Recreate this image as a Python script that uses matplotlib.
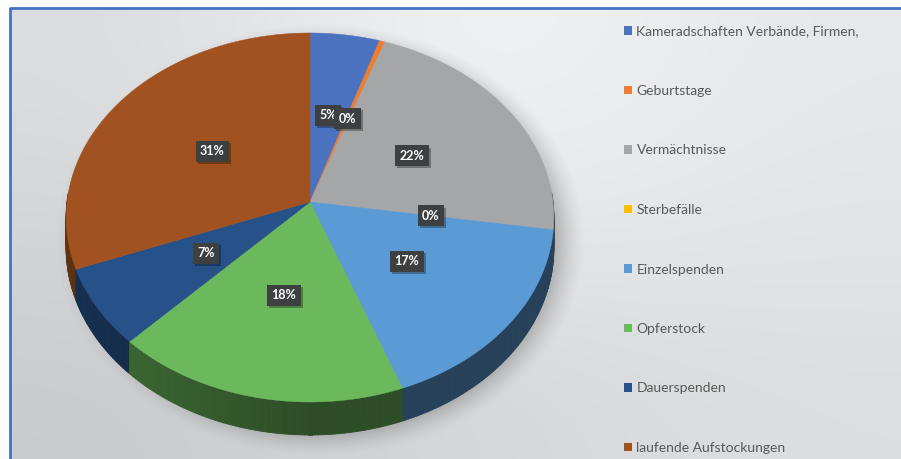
import numpy as np
import matplotlib
matplotlib.use('Agg')
import matplotlib.pyplot as plt
import matplotlib.patheffects as pe
from matplotlib.patches import Polygon, Patch
from matplotlib.collections import PolyCollection
from matplotlib.colors import to_rgb

# slice data, clockwise from 12 o'clock
labels = ['Kameradschaften Verbände, Firmen,', 'Geburtstage', 'Vermächtnisse',
          'Sterbefälle', 'Einzelspenden', 'Opferstock', 'Dauerspenden',
          'laufende Aufstockungen']
values = [5.0, 0.4, 22.0, 0.0, 16.9, 18.0, 6.9, 30.8]
colors = ['#4A72BE', '#ED7D31', '#A4A6A8', '#FFC000', '#5B9BD5', '#6CB85C',
          '#265189', '#A15220']

# tilted pie geometry (pixel units, simple perspective)
cx, cy = 310, 202
rx, ry, k = 243, 183.2, 0.084
depth = 30.2


def project(u, v):
    w = 1 + k * v
    return cx + rx * u / w, cy - ry * v / w


def rim(t):
    return project(np.sin(t), np.cos(t))


def shade(c, f):
    r, g, b = to_rgb(c)
    return (r * f, g * f, b * f)


fig = plt.figure(figsize=(9.01, 4.59), dpi=100)
fig.patch.set_facecolor('white')
ax = fig.add_axes([0, 0, 1, 1])
ax.set_xlim(0, 901)
ax.set_ylim(459, 0)
ax.axis('off')

# background gradient
bg = np.array([[0xDA, 0xF4, 0xE6],
               [0xD2, 0xE8, 0xE2],
               [0xC9, 0xD4, 0xDC]]) / 255.0
bg_rgb = np.dstack([bg, np.clip(bg + 0.008, 0, 1), np.clip(bg + 0.012, 0, 1)])
ax.imshow(bg_rgb, extent=(10, 901, 459, 8), interpolation='bicubic',
          aspect='auto', zorder=0)

# soft drop shadow
X, Y = np.meshgrid(np.arange(0, 901), np.arange(0, 459))
r = np.sqrt(((X - 320) / 251.0) ** 2 + ((Y - 239) / 205.0) ** 2)
alpha = 0.32 * np.clip((1.06 - r) / 0.13, 0, 1) ** 1.5
sh = np.zeros((459, 901, 4))
sh[..., :3] = 0.25
sh[..., 3] = alpha
ax.imshow(sh, extent=(0, 901, 459, 0), aspect='auto', zorder=1)

fracs = np.array(values) / sum(values)
bounds = np.concatenate([[0], np.cumsum(fracs)]) * 2 * np.pi

# side walls, back to front
segs = []
for i in range(len(values)):
    if fracs[i] <= 0:
        continue
    n = max(2, int(fracs[i] * 500))
    ts = np.linspace(bounds[i], bounds[i + 1], n + 1)
    for a, b in zip(ts[:-1], ts[1:]):
        tm = 0.5 * (a + b)
        v = np.cos(tm)
        if v > 0.05:
            continue
        xa, ya = rim(a)
        xb, yb = rim(b)
        da = depth / (1 + k * np.cos(a))
        db = depth / (1 + k * np.cos(b))
        f = 0.42 + 0.18 * max(0.0, -np.sin(tm))
        segs.append((v, [(xa, ya), (xb, yb), (xb, yb + db), (xa, ya + da)],
                     shade(colors[i], f)))
segs.sort(key=lambda s: -s[0])
pc = PolyCollection([s[1] for s in segs], facecolors=[s[2] for s in segs],
                    edgecolors=[s[2] for s in segs], linewidths=0.6, zorder=2)
ax.add_collection(pc)

# top faces
for i in range(len(values)):
    if fracs[i] <= 0:
        continue
    n = max(2, int(fracs[i] * 500))
    ts = np.linspace(bounds[i], bounds[i + 1], n + 1)
    xs, ys = rim(ts)
    pts = [(cx, cy)] + list(zip(xs, ys))
    ax.add_patch(Polygon(pts, closed=True, facecolor=colors[i],
                         edgecolor=colors[i], lw=0.3, zorder=3))

# data labels
for i in range(len(values)):
    tm = 0.5 * (bounds[i] + bounds[i + 1])
    lx, ly = project(0.5 * np.sin(tm), 0.5 * np.cos(tm))
    txt = '%d%%' % round(fracs[i] * 100)
    t = ax.text(lx, ly, txt, ha='center', va='center', fontsize=9,
                fontweight='bold', family='Lato', color='white', zorder=5,
                bbox=dict(boxstyle='square,pad=0.35', fc='#3D3F41', ec='none'))
    t.get_bbox_patch().set_path_effects(
        [pe.SimplePatchShadow(offset=(1.5, -1.5), shadow_rgbFace='black',
                              alpha=0.3), pe.Normal()])

# border
ax.plot([10, 10, 901], [459, 8, 8], color='#4472C4', lw=2, zorder=6,
        solid_capstyle='butt')

handles = [Patch(facecolor=c, edgecolor='none') for c in colors]
leg = ax.legend(handles, labels, loc='upper left',
                bbox_to_anchor=(624, 25.5), bbox_transform=ax.transData,
                frameon=False, fontsize=10, labelspacing=3.42,
                handlelength=0.55, handleheight=0.55, handletextpad=0.35,
                borderpad=0, borderaxespad=0)
for t in leg.get_texts():
    t.set_color('#595959')
    t.set_family('Lato')

fig.savefig('out.png', dpi=100, facecolor='white')
